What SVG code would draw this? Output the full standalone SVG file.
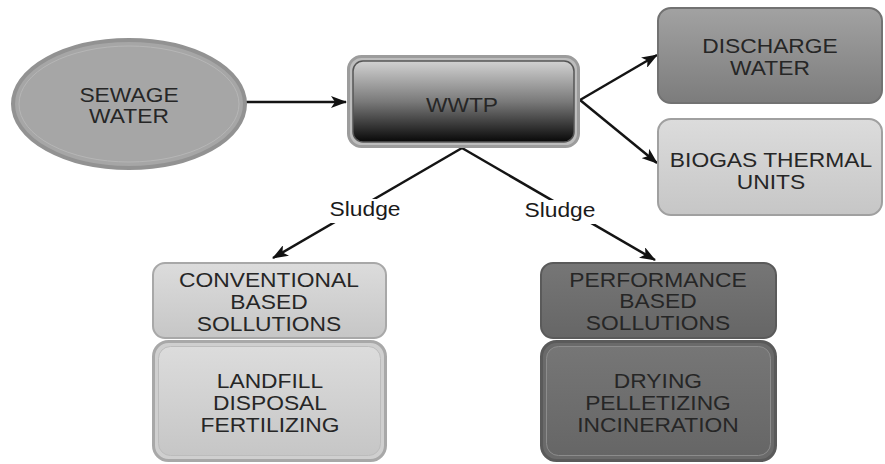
<svg xmlns="http://www.w3.org/2000/svg" width="885" height="464" viewBox="0 0 885 464">
<style>
.t{font-family:"Liberation Sans",Arial,sans-serif;font-size:20px;fill:#262626;text-anchor:middle}
.lbl{font-family:"Liberation Sans",Arial,sans-serif;font-size:20px;fill:#1a1a1a;text-anchor:middle}
.c{stroke:#141414;stroke-width:2.5;fill:none;marker-end:url(#ah)}
</style>
<defs>
<marker id="ah" markerUnits="userSpaceOnUse" markerWidth="16" markerHeight="12" refX="15" refY="6" orient="auto">
<path d="M0,0 L16,6 L0,12 L4,6 z" fill="#111"/>
</marker>
<linearGradient id="gW" x1="0" y1="0" x2="0" y2="1">
<stop offset="0" stop-color="#d2d2d2"/><stop offset="0.5" stop-color="#7a7a7a"/><stop offset="1" stop-color="#080808"/>
</linearGradient>
<linearGradient id="gD" x1="0" y1="0" x2="0" y2="1">
<stop offset="0" stop-color="#a2a2a2"/><stop offset="1" stop-color="#7c7c7c"/>
</linearGradient>
<linearGradient id="gL" x1="0" y1="0" x2="0" y2="1">
<stop offset="0" stop-color="#dcdcdc"/><stop offset="1" stop-color="#c6c6c6"/>
</linearGradient>
<linearGradient id="gP" x1="0" y1="0" x2="0" y2="1">
<stop offset="0" stop-color="#767676"/><stop offset="1" stop-color="#666666"/>
</linearGradient>
</defs>

<g id="connectors">
<line class="c" x1="245" y1="102" x2="346" y2="102"/>
<line class="c" x1="580" y1="100" x2="657" y2="55"/>
<line class="c" x1="580" y1="100" x2="657" y2="163"/>
<line class="c" x1="462" y1="148" x2="273" y2="258"/>
<line class="c" x1="462" y1="148" x2="655" y2="260"/>
<rect x="327" y="199" width="78" height="24" fill="#fff"/>
<rect x="521" y="200" width="78" height="24" fill="#fff"/>
<text class="lbl" transform="scale(1.14 1)" x="320.18" y="216">Sludge</text>
<text class="lbl" transform="scale(1.14 1)" x="491.23" y="217">Sludge</text>
</g>

<g id="sewage">
<ellipse cx="129" cy="104" rx="116" ry="64" fill="#a6a6a6" stroke="#929292" stroke-width="4"/>
<ellipse cx="129" cy="104" rx="110" ry="58" fill="none" stroke="#b6b6b6" stroke-width="1"/>
<text class="t" transform="scale(1.14 1)" x="113.16" y="102">SEWAGE</text>
<text class="t" transform="scale(1.14 1)" x="113.16" y="123">WATER</text>
</g>

<g id="wwtp">
<rect x="348.5" y="56.5" width="230" height="90" rx="13" fill="#bdbdbd" stroke="#9c9c9c" stroke-width="3"/>
<rect x="353" y="61" width="221" height="81" rx="10" fill="url(#gW)" stroke="#555" stroke-width="1.5"/>
<text class="t" transform="scale(1.14 1)" x="405.26" y="112">WWTP</text>
</g>

<g id="discharge">
<rect x="658" y="8" width="224" height="95" rx="13" fill="url(#gD)" stroke="#727272" stroke-width="2"/>
<text class="t" transform="scale(1.14 1)" x="675.44" y="53">DISCHARGE</text>
<text class="t" transform="scale(1.14 1)" x="675.44" y="75">WATER</text>
</g>

<g id="biogas">
<rect x="658" y="119" width="224" height="96" rx="13" fill="url(#gL)" stroke="#a0a0a0" stroke-width="2"/>
<text class="t" transform="scale(1.14 1)" x="676.3" y="167">BIOGAS THERMAL</text>
<text class="t" transform="scale(1.14 1)" x="676.3" y="189">UNITS</text>
</g>

<g id="conventional">
<rect x="153" y="263" width="233" height="75" rx="12" fill="url(#gL)" stroke="#a8a8a8" stroke-width="2"/>
<text class="t" transform="scale(1.14 1)" x="235.96" y="287">CONVENTIONAL</text>
<text class="t" transform="scale(1.14 1)" x="235.96" y="309">BASED</text>
<text class="t" transform="scale(1.14 1)" x="235.96" y="331">SOLLUTIONS</text>
</g>

<g id="landfill">
<rect x="153.5" y="341.5" width="232" height="119" rx="15" fill="#cfcfcf" stroke="#a8a8a8" stroke-width="3"/>
<rect x="158.5" y="346.5" width="222" height="109" rx="12" fill="url(#gL)" stroke="#bcbcbc" stroke-width="1"/>
<text class="t" transform="scale(1.14 1)" x="236.84" y="388">LANDFILL</text>
<text class="t" transform="scale(1.14 1)" x="236.84" y="410">DISPOSAL</text>
<text class="t" transform="scale(1.14 1)" x="236.84" y="432">FERTILIZING</text>
</g>

<g id="performance">
<rect x="541" y="263" width="235" height="75" rx="12" fill="url(#gP)" stroke="#5a5a5a" stroke-width="2"/>
<text class="t" transform="scale(1.14 1)" x="577.19" y="287">PERFORMANCE</text>
<text class="t" transform="scale(1.14 1)" x="577.19" y="308">BASED</text>
<text class="t" transform="scale(1.14 1)" x="577.19" y="330">SOLLUTIONS</text>
</g>

<g id="drying">
<rect x="541.5" y="341.5" width="234" height="119" rx="15" fill="#6a6a6a" stroke="#5a5a5a" stroke-width="3"/>
<rect x="546.5" y="346.5" width="224" height="109" rx="12" fill="url(#gP)" stroke="#8c8c8c" stroke-width="1"/>
<text class="t" transform="scale(1.14 1)" x="577.19" y="388">DRYING</text>
<text class="t" transform="scale(1.14 1)" x="577.19" y="410">PELLETIZING</text>
<text class="t" transform="scale(1.14 1)" x="577.19" y="432">INCINERATION</text>
</g>
</svg>
